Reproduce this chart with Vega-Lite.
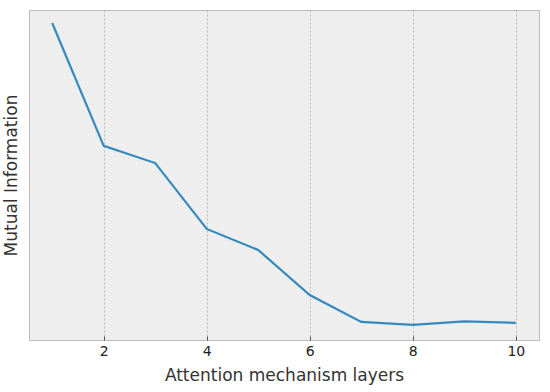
{
  "$schema": "https://vega.github.io/schema/vega-lite/v6.json",
  "width": 510,
  "height": 330,
  "autosize": {"type": "none"},
  "padding": {"left": 29, "top": 10, "right": 11, "bottom": 52},
  "background": "white",
  "config": {
    "font": "DejaVu Sans",
    "view": {"fill": "#eeeeee", "stroke": "#bcbcbc", "strokeWidth": 1}
  },
  "data": {
    "values": [
      {"layer": 1, "mi": 1.0},
      {"layer": 2, "mi": 0.593},
      {"layer": 3, "mi": 0.536},
      {"layer": 4, "mi": 0.318},
      {"layer": 5, "mi": 0.248},
      {"layer": 6, "mi": 0.099},
      {"layer": 7, "mi": 0.010},
      {"layer": 8, "mi": 0.0},
      {"layer": 9, "mi": 0.012},
      {"layer": 10, "mi": 0.007}
    ]
  },
  "mark": {"type": "line", "color": "#348ABD", "strokeWidth": 2.2},
  "encoding": {
    "x": {
      "field": "layer",
      "type": "quantitative",
      "scale": {"domain": [0.55, 10.45], "nice": false, "zero": false},
      "axis": {
        "values": [2, 4, 6, 8, 10],
        "title": "Attention mechanism layers",
        "titleFont": "DejaVu Sans",
        "titleFontSize": 17,
        "titleFontWeight": "normal",
        "titleColor": "#333333",
        "titlePadding": 9,
        "labelFontSize": 14,
        "labelColor": "#222222",
        "labelPadding": 8,
        "tickSize": -4,
        "tickColor": "#555555",
        "domain": false,
        "grid": true,
        "gridColor": "#b0b0b0",
        "gridDash": [2, 2],
        "gridWidth": 0.8
      }
    },
    "y": {
      "field": "mi",
      "type": "quantitative",
      "scale": {"domain": [-0.05, 1.043], "nice": false, "zero": false},
      "axis": {
        "title": "Mutual Information",
        "titleFont": "DejaVu Sans",
        "titleFontSize": 17,
        "titleFontWeight": "normal",
        "titleColor": "#333333",
        "titlePadding": 9,
        "labels": false,
        "ticks": false,
        "domain": false,
        "grid": false
      }
    }
  }
}
